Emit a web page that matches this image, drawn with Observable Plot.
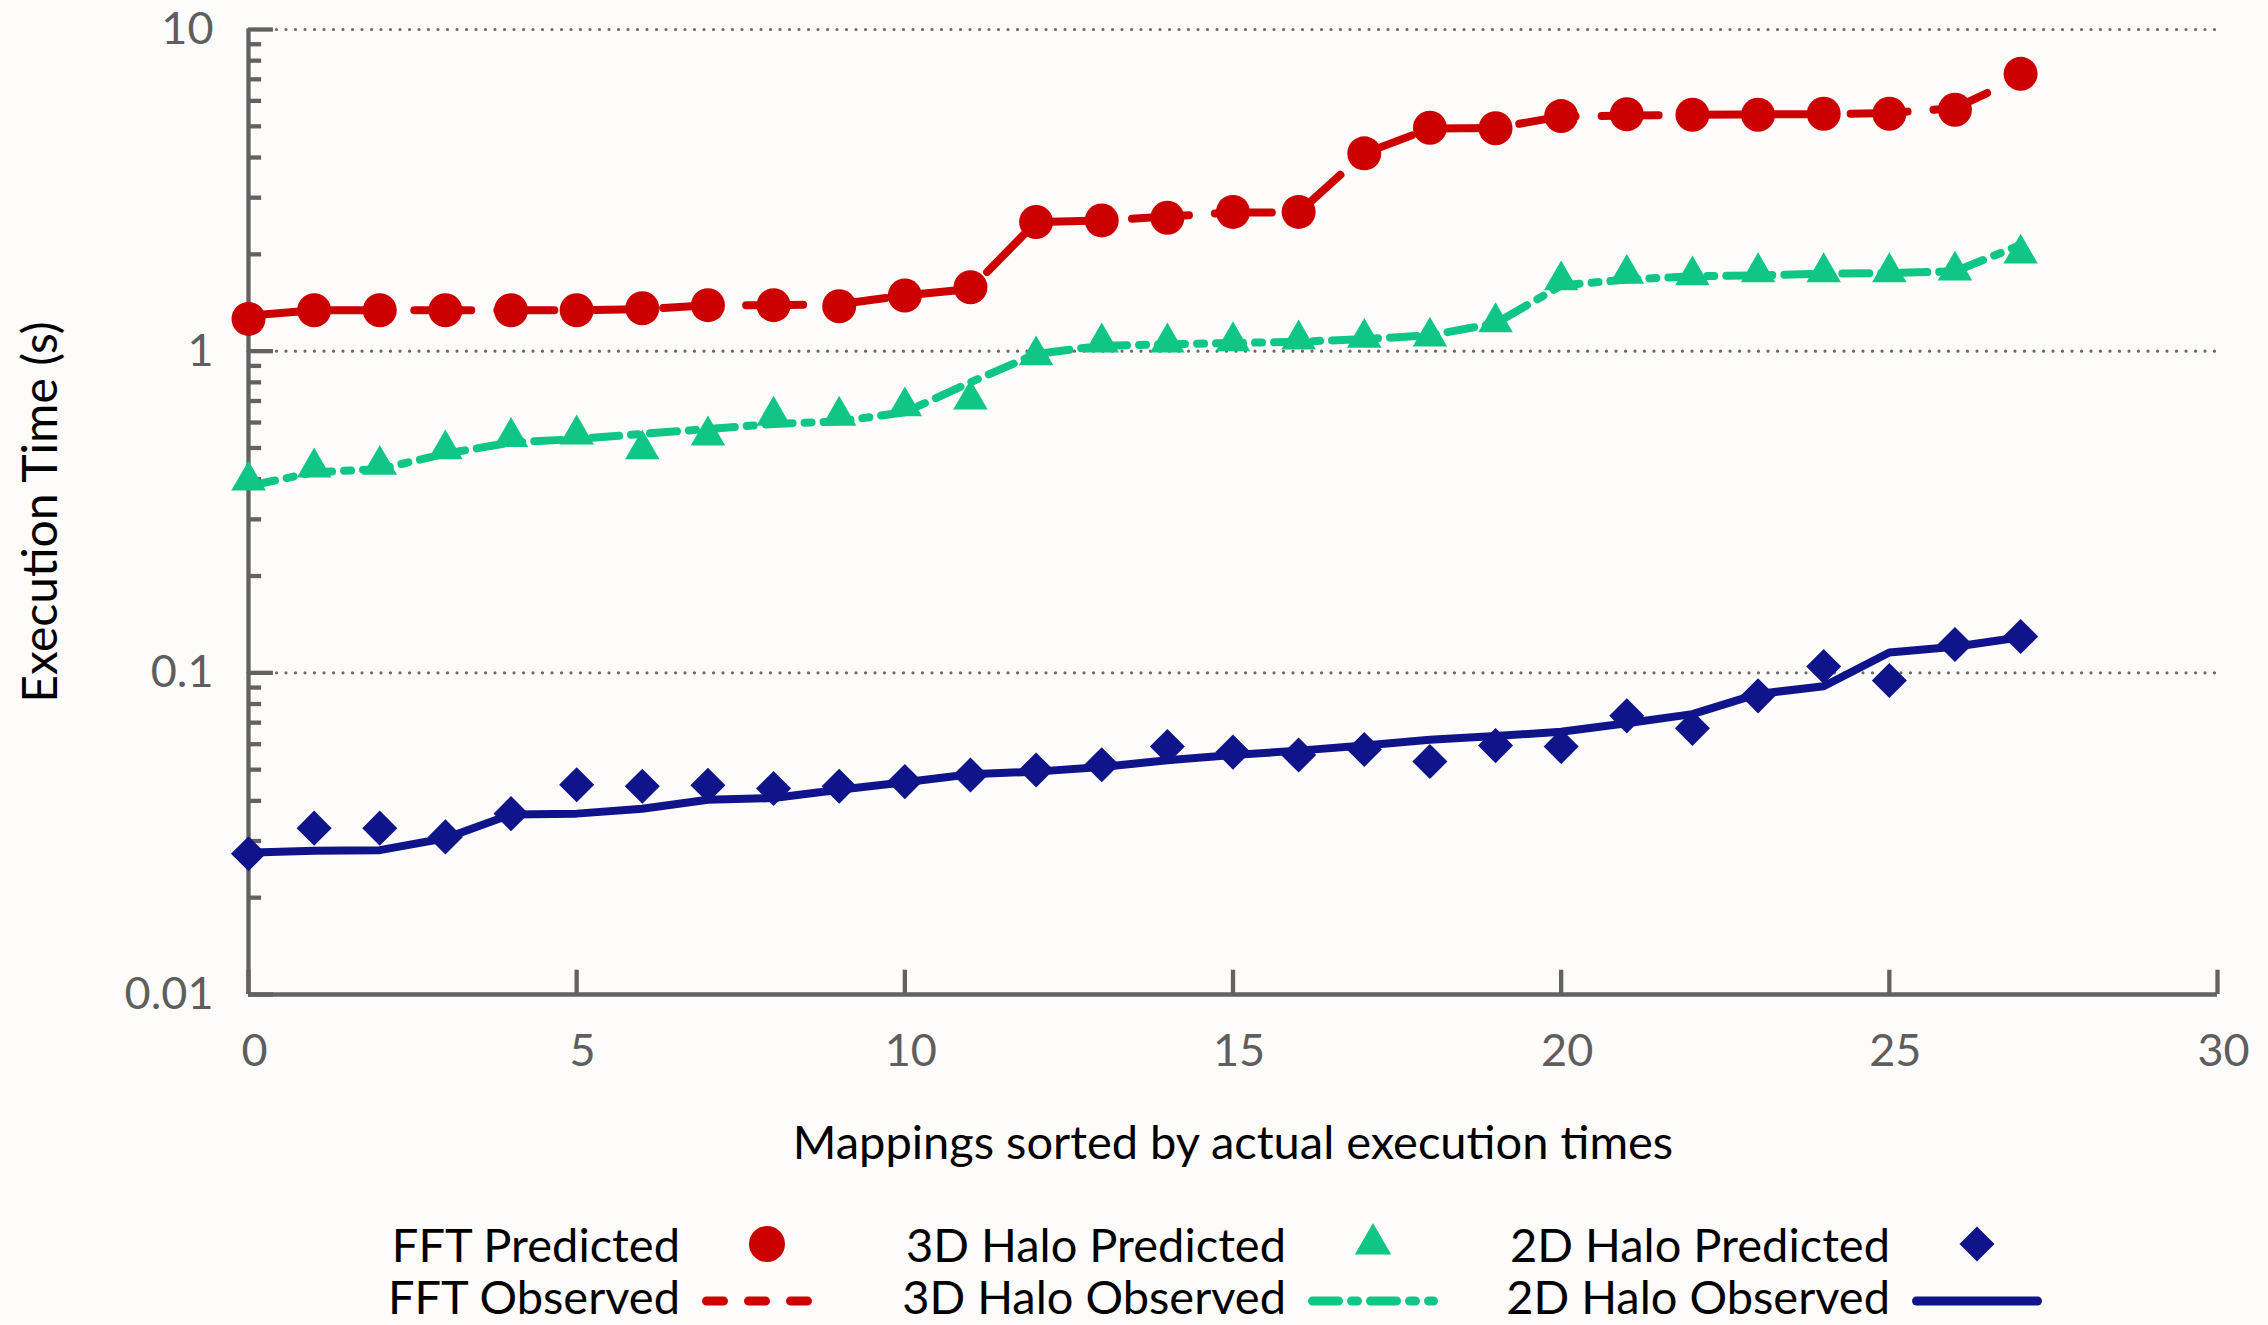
<!DOCTYPE html>
<html>
<head>
<meta charset="utf-8">
<script src="https://cdn.jsdelivr.net/npm/d3@7"></script>
<script src="https://cdn.jsdelivr.net/npm/@observablehq/plot@0.6"></script>
<style>
  html, body { margin: 0; padding: 0; background: #fdfcfa; }
  body { width: 2268px; height: 1325px; overflow: hidden; font-family: Lato, "Open Sans", sans-serif; }
  #chart svg { display: block; }
  #legend {
    display: grid;
    grid-template-columns: 680px 174px 432px 174px 430px 174px;
    grid-auto-rows: 52px;
    padding-top: 28px;
    font-family: Lato, sans-serif;
    font-size: 47px;
    color: #000;
  }
  #legend .lt { text-align: right; line-height: 52px; white-space: nowrap; }
  #legend svg { display: block; overflow: visible; }
</style>
</head>
<body>
<div id="chart"></div>
<div id="legend"></div>
<script>
// ---- data ----
const mappings = [0,1,2,3,4,5,6,7,8,9,10,11,12,13,14,15,16,17,18,19,20,21,22,23,24,25,26,27];

const fftPredicted = [1.26,1.34,1.34,1.34,1.34,1.34,1.36,1.39,1.39,1.38,1.49,1.58,2.52,2.55,2.60,2.71,2.71,4.12,4.95,4.93,5.38,5.45,5.43,5.43,5.47,5.47,5.63,7.28];
const fftObserved  = [1.29,1.34,1.34,1.34,1.34,1.34,1.35,1.39,1.39,1.40,1.49,1.56,2.52,2.55,2.62,2.70,2.70,4.12,4.92,4.94,5.37,5.40,5.43,5.45,5.45,5.50,5.70,7.10];

const halo3dPredicted = [0.396,0.435,0.443,0.495,0.541,0.551,0.495,0.547,0.630,0.630,0.674,0.707,0.970,1.064,1.064,1.074,1.087,1.100,1.110,1.230,1.660,1.740,1.720,1.760,1.760,1.760,1.780,2.010];
const halo3dObserved  = [0.381,0.420,0.430,0.480,0.520,0.533,0.553,0.573,0.594,0.605,0.646,0.800,0.980,1.040,1.050,1.060,1.070,1.090,1.120,1.220,1.600,1.670,1.710,1.720,1.740,1.750,1.770,2.140];

const halo2dPredicted = [0.0274,0.0329,0.0329,0.0309,0.0365,0.0449,0.0444,0.0447,0.0437,0.0444,0.0459,0.0481,0.0499,0.0518,0.0590,0.0567,0.0555,0.0578,0.0530,0.0594,0.0590,0.0735,0.0672,0.0848,0.1047,0.0947,0.1225,0.1297];
const halo2dObserved  = [0.0276,0.0280,0.0281,0.0306,0.0363,0.0365,0.0378,0.0403,0.0408,0.0433,0.0457,0.0484,0.0493,0.0510,0.0535,0.0555,0.0573,0.0594,0.0619,0.0636,0.0656,0.0697,0.0744,0.0860,0.0908,0.1157,0.1205,0.1290];

const xTicks = [0,5,10,15,20,25,30];
const yMajorTicks = [0.01,0.1,1,10];
const yTickLabels = ["0.01","0.1","1","10"];
const yMinorTicks = [0.02,0.03,0.04,0.05,0.06,0.07,0.08,0.09,0.2,0.3,0.4,0.5,0.6,0.7,0.8,0.9,2,3,4,5,6,7,8,9];
const gridValues = [0.1,1,10];

const predictedLabels = ["FFT Predicted", "3D Halo Predicted", "2D Halo Predicted"];
const observedLabels  = ["FFT Observed", "3D Halo Observed", "2D Halo Observed"];
const xLabel = "Mappings sorted by actual execution times";
const yLabel = "Execution Time (s)";

// ---- styles ----
const RED = "#cc0000", GREEN = "#0fc686", NAVY = "#10148a";
const AXIS = "#626262", TICKTXT = "#5e5e5e";

const rows = (pred, obs) => mappings.map((m, i) => ({m, pred: pred[i], obs: obs[i]}));
const fft = rows(fftPredicted, fftObserved);
const h3 = rows(halo3dPredicted, halo3dObserved);
const h2 = rows(halo2dPredicted, halo2dObserved);

const chart = Plot.plot({
  width: 2268,
  height: 1190,
  marginLeft: 248,
  marginRight: 51,
  marginTop: 29,
  marginBottom: 196,
  style: {background: "transparent", fontFamily: "Lato, sans-serif", overflow: "visible"},
  x: {domain: [0, 30]},
  y: {type: "log", domain: [0.01, 10]},
  marks: [
    // dotted grid
    Plot.ruleY(gridValues, {y: d => d, x1: 0, x2: 30, stroke: "#6a6a6a", strokeWidth: 3.2, strokeDasharray: "0,9.5", strokeLinecap: "round"}),
    // axis lines
    Plot.ruleX([0], {x: d => d, y1: 0.01, y2: 10, stroke: AXIS, strokeWidth: 4.3}),
    Plot.ruleY([0.01], {y: d => d, x1: 0, x2: 30, stroke: AXIS, strokeWidth: 4.3}),
    // inward ticks
    Plot.ruleY(yMajorTicks, {y: d => d, x1: 0, x2: 0.38, stroke: AXIS, strokeWidth: 4.3}),
    Plot.ruleY(yMinorTicks, {y: d => d, x1: 0, x2: 0.2, stroke: AXIS, strokeWidth: 4.3}),
    Plot.ruleX(xTicks, {x: d => d, y1: 0.01, y2: 0.0119, stroke: AXIS, strokeWidth: 4.3}),
    // tick labels
    Plot.axisY({ticks: yMajorTicks, tickSize: 0, tickPadding: 35, tickFormat: d => yTickLabels[yMajorTicks.indexOf(d)], fontSize: 45, color: TICKTXT, label: null}),
    Plot.axisX({ticks: xTicks, tickSize: 0, tickPadding: 40, fontSize: 45, color: TICKTXT, label: null, dx: 6}),
    // axis titles
    Plot.text([yLabel], {text: d => d, frameAnchor: "left", rotate: -90, dx: -207, fontSize: 48, fill: "#000", lineAnchor: "middle", textAnchor: "middle"}),
    Plot.text([xLabel], {text: d => d, frameAnchor: "bottom", dy: 149, fontSize: 47, fill: "#000", lineAnchor: "middle", textAnchor: "middle"}),
    // observed lines
    Plot.line(fft, {x: "m", y: "obs", stroke: RED, strokeWidth: 8, strokeDasharray: "57,26", strokeLinecap: "round", strokeLinejoin: "round"}),
    Plot.line(h3, {x: "m", y: "obs", stroke: GREEN, strokeWidth: 8, strokeDasharray: "27,12,7,12", strokeLinecap: "round", strokeLinejoin: "round"}),
    Plot.line(h2, {x: "m", y: "obs", stroke: NAVY, strokeWidth: 8, strokeLinecap: "round", strokeLinejoin: "round"}),
    // predicted points
    Plot.dot(fft, {x: "m", y: "pred", r: 17, fill: RED, symbol: "circle"}),
    Plot.dot(h3, {x: "m", y: "pred", r: 12.8, fill: GREEN, symbol: "triangle"}),
    Plot.dot(h2, {x: "m", y: "pred", r: 15.8, fill: NAVY, symbol: "diamond2"})
  ]
});
document.getElementById("chart").appendChild(chart);

// ---- legend ----
const legend = d3.select("#legend");
const colors = [RED, GREEN, NAVY];
const symbolPaths = [
  d3.symbol(d3.symbolCircle, Math.PI * 18 * 18)(),
  d3.symbol(d3.symbolTriangle, Math.PI * 13.5 * 13.5)(),
  d3.symbol(d3.symbolDiamond2, Math.PI * 15.8 * 15.8)()
];
const legendDash = ["17,25", "26,13,6,13", null];
predictedLabels.forEach((lab, i) => {
  legend.append("div").attr("class", "lt").text(lab);
  const s = legend.append("svg").attr("width", 174).attr("height", 52);
  s.append("path").attr("d", symbolPaths[i]).attr("transform", "translate(87,26)").attr("fill", colors[i]);
});
observedLabels.forEach((lab, i) => {
  legend.append("div").attr("class", "lt").text(lab);
  const s = legend.append("svg").attr("width", 174).attr("height", 52);
  const l = s.append("line").attr("x1", 26.5).attr("x2", 147.5).attr("y1", 31).attr("y2", 31)
    .attr("stroke", colors[i]).attr("stroke-width", 9).attr("stroke-linecap", "round");
  if (legendDash[i]) l.attr("stroke-dasharray", legendDash[i]);
});
</script>
</body>
</html>
